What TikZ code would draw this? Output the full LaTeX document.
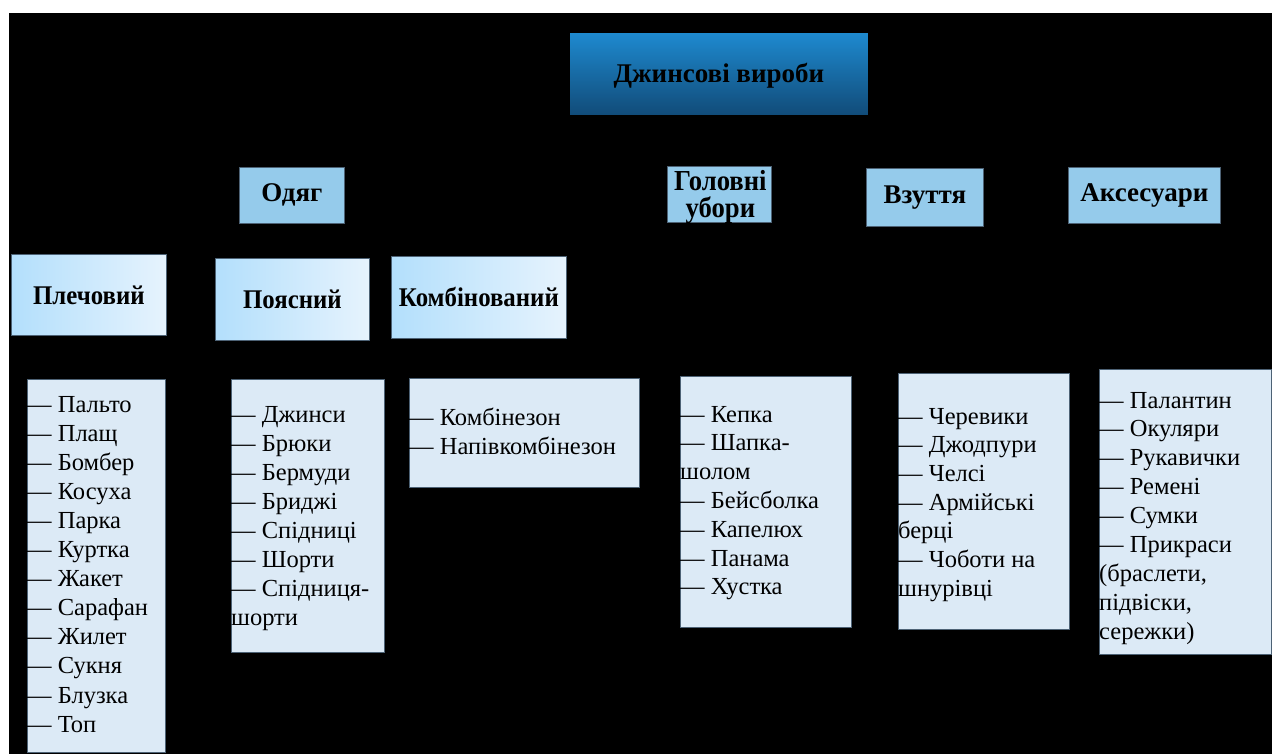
\documentclass[tikz,border=0pt]{standalone}
\usepackage{fontspec}
\setmainfont{Liberation Serif}
\newfontfamily\condfont[FakeStretch=0.92]{Liberation Serif}
\usetikzlibrary{calc}
\definecolor{listfill}{HTML}{DCEAF6}
\definecolor{catfill}{HTML}{95CBEB}
\definecolor{boxline}{HTML}{4D6275}
\definecolor{subA}{HTML}{B3DFFC}
\definecolor{subB}{HTML}{E6F3FD}
\definecolor{topA}{HTML}{1E8AD0}
\definecolor{topB}{HTML}{114B78}
\tikzset{
  listbox/.style={draw=boxline, line width=0.8pt, fill=listfill, anchor=north west, inner sep=0pt},
  catbox/.style={draw=boxline, line width=0.8pt, fill=catfill, anchor=north west, inner sep=0pt},
  subbox/.style={draw=boxline, line width=0.8pt, left color=subA, right color=subB, anchor=north west, inner sep=0pt},
  topbox/.style={draw=black, line width=0.8pt, top color=topA, bottom color=topB, anchor=north west, inner sep=0pt},
  headtext/.style={font=\fontsize{27}{27}\selectfont\bfseries, text=black, inner sep=0pt, align=center},
  subtext/.style={font=\condfont\fontsize{27}{27}\selectfont\bfseries, text=black, inner sep=0pt, align=center},
  listtext/.style={font=\fontsize{24.5}{29}\selectfont, text=black, inner sep=0pt, anchor=base west},
}
\begin{document}
\begin{tikzpicture}[x=1pt,y=-1pt]
\useasboundingbox (0,0) rectangle (1272,754);
\fill[white] (0,0) rectangle (1272,754);
\fill[black] (9,13) rectangle (1272,754);

% top
\node[topbox, minimum width=299pt, minimum height=83pt] (top) at (569,32) {};
\node[headtext] (toptext) at ($(top.center)+(0,2)$) {Джинсові вироби};

% categories
\node[catbox, minimum width=105pt, minimum height=56pt] (odyag) at (239,167) {};
\node[headtext] (odyagtext) at (odyag.center) {Одяг};
\node[catbox, minimum width=104pt, minimum height=56pt] (golov) at (667,166) {};
\node[headtext, font=\condfont\fontsize{29}{27}\selectfont\bfseries] (golovtext) at ($(golov.center)+(1,3)$) {Головні\\убори};
\node[catbox, minimum width=117pt, minimum height=58pt] (vzut) at (866,168) {};
\node[headtext] (vzuttext) at (vzut.center) {Взуття};
\node[catbox, minimum width=152pt, minimum height=56pt] (akses) at (1068,167) {};
\node[headtext] (aksestext) at (akses.center) {Аксесуари};

% subcategories
\node[subbox, minimum width=155pt, minimum height=81pt] (plech) at (11,254) {};
\node[subtext] (plechtext) at (plech.center) {Плечовий};
\node[subbox, minimum width=154pt, minimum height=82pt] (poyas) at (215,258) {};
\node[subtext] (poyastext) at (poyas.center) {Поясний};
\node[subbox, minimum width=175pt, minimum height=82pt] (kombi) at (391,256) {};
\node[subtext] (kombitext) at (kombi.center) {Комбінований};

% lists
\node[listbox, minimum width=138pt, minimum height=373pt] (l1) at (27,379) {};
\foreach \t [count=\i from 0] in {— Пальто, — Плащ, — Бомбер, — Косуха, — Парка, — Куртка, — Жакет, — Сарафан, — Жилет, — Сукня, — Блузка, — Топ}
  \node[listtext] (t1-\i) at ($(l1.north west)+(0,33+29.1*\i)$) {\t};

\node[listbox, minimum width=153pt, minimum height=273pt] (l2) at (231,379) {};
\foreach \t [count=\i from 0] in {— Джинси, — Брюки, — Бермуди, — Бриджі, — Спідниці, — Шорти, — Спідниця-, шорти}
  \node[listtext] (t2-\i) at ($(l2.north west)+(0,43+29*\i)$) {\t};

\node[listbox, minimum width=230pt, minimum height=109pt] (l3) at (409,378) {};
\foreach \t [count=\i from 0] in {— Комбінезон, — Напівкомбінезон}
  \node[listtext] (t3-\i) at ($(l3.north west)+(0,47+29.5*\i)$) {\t};

\node[listbox, minimum width=171pt, minimum height=251pt] (l4) at (680,376) {};
\foreach \t [count=\i from 0] in {— Кепка, — Шапка-, шолом, — Бейсболка, — Капелюх, — Панама, — Хустка}
  \node[listtext] (t4-\i) at ($(l4.north west)+(0,46+28.8*\i)$) {\t};

\node[listbox, minimum width=171pt, minimum height=256pt] (l5) at (898,373) {};
\foreach \t [count=\i from 0] in {— Черевики, — Джодпури, — Челсі, — Армійські, берці, — Чоботи на, шнурівці}
  \node[listtext] (t5-\i) at ($(l5.north west)+(0,51+28.7*\i)$) {\t};

\node[listbox, minimum width=172pt, minimum height=285pt] (l6) at (1099,369) {};
\foreach \t [count=\i from 0] in {— Палантин, — Окуляри, — Рукавички, — Ремені, — Сумки, — Прикраси, {(браслети,}, {підвіски,}, сережки)}
  \node[listtext] (t6-\i) at ($(l6.north west)+(0,39+28.9*\i)$) {\t};
\end{tikzpicture}
\end{document}
